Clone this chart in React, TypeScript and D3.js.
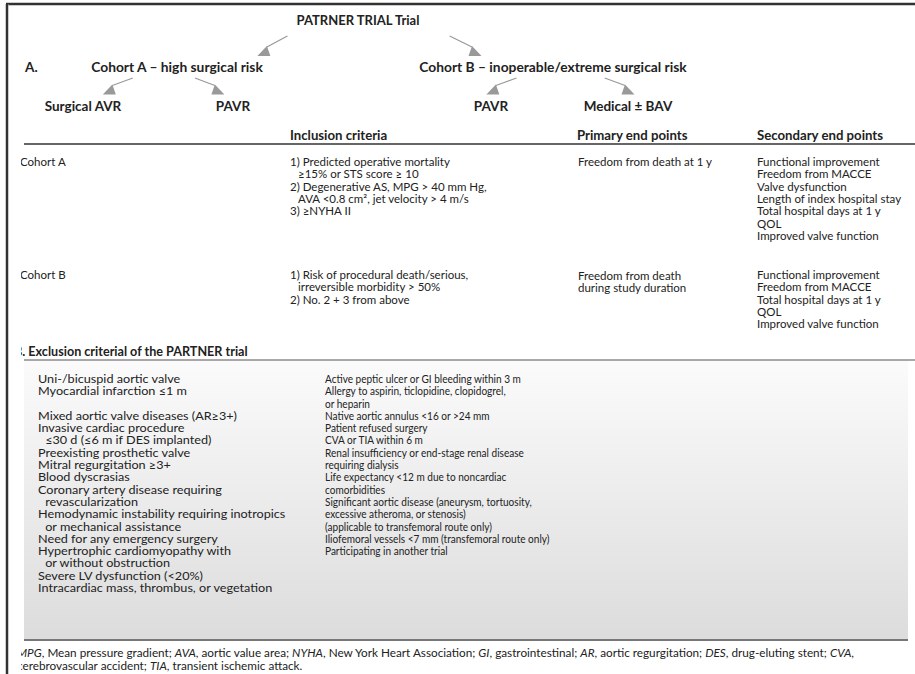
import React from "react";
import * as d3 from "d3";

const W = 915;
const H = 674;

// ---- data ----
const trialTitle = "PATRNER TRIAL Trial";
const partALabel = "A.";
const cohortLabels = ["Cohort A – high surgical risk", "Cohort B – inoperable/extreme surgical risk"];
const armLabels = ["Surgical AVR", "PAVR", "PAVR", "Medical ± BAV"];
const treeLinks = [
  ["root", "cohortA"],
  ["root", "cohortB"],
  ["cohortA", "armA1"],
  ["cohortA", "armA2"],
  ["cohortB", "armB1"],
  ["cohortB", "armB2"],
];
const tableHeaders = ["Inclusion criteria", "Primary end points", "Secondary end points"];
const rowLabels = ["Cohort A", "Cohort B"];
const inclusionA = [
  "1) Predicted operative mortality",
  "  ≥15% or STS score ≥ 10",
  "2) Degenerative AS, MPG > 40 mm Hg,",
  "  AVA <0.8 cm², jet velocity > 4 m/s",
  "3) ≥NYHA II",
];
const inclusionB = [
  "1) Risk of procedural death/serious,",
  "  irreversible morbidity > 50%",
  "2) No. 2 + 3 from above",
];
const primaryA = ["Freedom from death at 1 y"];
const primaryB = ["Freedom from death", "during study duration"];
const secondaryA = [
  "Functional improvement",
  "Freedom from MACCE",
  "Valve dysfunction",
  "Length of index hospital stay",
  "Total hospital days at 1 y",
  "QOL",
  "Improved valve function",
];
const secondaryB = [
  "Functional improvement",
  "Freedom from MACCE",
  "Total hospital days at 1 y",
  "QOL",
  "Improved valve function",
];
const partBTitle = "B. Exclusion criterial of the PARTNER trial";
const exclusionLeft = [
  "Uni-/bicuspid aortic valve",
  "Myocardial infarction ≤1 m",
  "",
  "Mixed aortic valve diseases (AR≥3+)",
  "Invasive cardiac procedure",
  "  ≤30 d (≤6 m if DES implanted)",
  "Preexisting prosthetic valve",
  "Mitral regurgitation ≥3+",
  "Blood dyscrasias",
  "Coronary artery disease requiring",
  "  revascularization",
  "Hemodynamic instability requiring inotropics",
  "  or mechanical assistance",
  "Need for any emergency surgery",
  "Hypertrophic cardiomyopathy with",
  "  or without obstruction",
  "Severe LV dysfunction (<20%)",
  "Intracardiac mass, thrombus, or vegetation",
];
const exclusionRight = [
  "Active peptic ulcer or GI bleeding within 3 m",
  "Allergy to aspirin, ticlopidine, clopidogrel,",
  "or heparin",
  "Native aortic annulus <16 or >24 mm",
  "Patient refused surgery",
  "CVA or TIA within 6 m",
  "Renal insufficiency or end-stage renal disease",
  "requiring dialysis",
  "Life expectancy <12 m due to noncardiac",
  "comorbidities",
  "Significant aortic disease (aneurysm, tortuosity,",
  "excessive atheroma, or stenosis)",
  "(applicable to transfemoral route only)",
  "Iliofemoral vessels <7 mm (transfemoral route only)",
  "Participating in another trial",
];
// [text, italic]
const footnoteLine1 = [
  ["MPG", true], [", Mean pressure gradient; ", false],
  ["AVA", true], [", aortic value area; ", false],
  ["NYHA", true], [", New York Heart Association; ", false],
  ["GI", true], [", gastrointestinal; ", false],
  ["AR", true], [", aortic regurgitation; ", false],
  ["DES", true], [", drug-eluting stent; ", false],
  ["CVA", true], [",", false],
];
const footnoteLine2 = [
  ["cerebrovascular accident; ", false],
  ["TIA", true], [", transient ischemic attack.", false],
];

// ---- layout ----
const font = "Lato, 'Open Sans', sans-serif";
const ink = "#222";

const treeX = d3
  .scaleOrdinal<string, number>()
  .domain(["root", "cohortA", "cohortB", "armA1", "armA2", "armB1", "armB2"])
  .range([358, 177, 553, 83, 233, 491, 628]);
const treeLevel: Record<string, number> = {
  root: 0, cohortA: 1, cohortB: 1, armA1: 2, armA2: 2, armB1: 2, armB2: 2,
};
const levelY = d3.scaleLinear().domain([0, 1, 2]).range([25, 72, 110.5]);
const arrowStartDrop = [11, 6];
// where each arrow sits between its two nodes (fraction of the way)
const arrowAt = d3
  .scaleOrdinal<string, number[]>()
  .domain(treeLinks.map((l) => l.join("-")))
  .range([[0.39, 0.52], [0.47, 0.6], [0.47, 0.72], [0.32, 0.73], [0.59, 0.97], [0.69, 1.0]]);

const colX = d3
  .scaleOrdinal<string, number>()
  .domain(["row", "inclusion", "primary", "secondary"])
  .range([20, 290, 578, 757]);
const pitch = d3.scaleLinear().domain([0, 1]).range([0, 12.3]);

const Lines = ({ lines, x, y, size = 11.5, indent = 8 }) => (
  <>
    {lines.map((t, i) => (
      <text
        key={i}
        x={x + (t.startsWith(" ") ? indent : 0)}
        y={y + pitch(i)}
        fontSize={size}
        fill={ink}
      >
        {t.trim()}
      </text>
    ))}
  </>
);

const App = () => {
  const nodes = {
    root: trialTitle,
    cohortA: cohortLabels[0],
    cohortB: cohortLabels[1],
    armA1: armLabels[0],
    armA2: armLabels[1],
    armB1: armLabels[2],
    armB2: armLabels[3],
  };

  const arrows = treeLinks.map(([p, c]) => {
    const [t0, t1] = arrowAt(`${p}-${c}`);
    const ix = d3.interpolateNumber(treeX(p), treeX(c));
    const y0 = levelY(treeLevel[p]) + arrowStartDrop[treeLevel[p]];
    const y1 = levelY(treeLevel[c]) - 16;
    return { x0: ix(t0), x1: ix(t1), y0, y1, dir: Math.sign(treeX(c) - treeX(p)) };
  });

  const exTop = 360;
  const exBottom = 640;

  return (
    <svg
      width={W}
      height={H}
      style={{ position: "absolute", left: 0, top: 0, background: "#fff" }}
      fontFamily={font}
    >
      <defs>
        <linearGradient id="exFill" x1="0" y1="0" x2="0" y2="1">
          <stop offset="0%" stopColor="#fbfbfb" />
          <stop offset="100%" stopColor="#dcdcdc" />
        </linearGradient>
        <clipPath id="page">
          <rect x={21} y={0} width={W} height={H} />
        </clipPath>
      </defs>

      {/* page frame */}
      <line x1={6} x2={W} y1={4} y2={4} stroke="#999" strokeWidth={3} />
      <line x1={6} x2={W} y1={4} y2={4} stroke="#111" strokeWidth={1.5} />
      <line x1={7} x2={7} y1={4} y2={H} stroke="#999" strokeWidth={3} />
      <line x1={7} x2={7} y1={4} y2={H} stroke="#111" strokeWidth={1.5} />

      <g clipPath="url(#page)">
        {/* tree */}
        {Object.entries(nodes).map(([id, label]) => (
          <text
            key={id}
            x={treeX(id)}
            y={levelY(treeLevel[id])}
            textAnchor="middle"
            fontWeight="bold"
            fontSize={id === "root" ? 13 : treeLevel[id] === 1 ? 13.8 : 13.5}
            fill={ink}
          >
            {label}
          </text>
        ))}
        <text x={25} y={levelY(1)} fontWeight="bold" fontSize={13.5} fill={ink}>
          {partALabel}
        </text>
        {arrows.map((a, i) => (
          <g key={i} fill="#999" stroke="#999">
            <line x1={a.x0} y1={a.y0} x2={a.x1 - a.dir * 3} y2={a.y1 - 9} strokeWidth={1.2} />
            <polygon
              stroke="none"
              points={`${a.x1 - 6.5},${a.y1} ${a.x1 + 6.5},${a.y1} ${a.x1 - a.dir * 3},${a.y1 - 10}`}
            />
          </g>
        ))}

        {/* table A */}
        {tableHeaders.map((h, i) => (
          <text
            key={h}
            x={colX(["inclusion", "primary", "secondary"][i]) - (i === 1 ? 1 : 0)}
            y={139.5}
            fontWeight="bold"
            fontSize={13.2}
            fill={ink}
          >
            {h}
          </text>
        ))}
        <line x1={24} x2={W} y1={144} y2={144} stroke="#333" strokeWidth={1.5} />

        <text x={colX("row")} y={166} fontSize={11.5} fill={ink}>{rowLabels[0]}</text>
        <Lines lines={inclusionA} x={colX("inclusion")} y={166} />
        <Lines lines={primaryA} x={colX("primary")} y={166} />
        <Lines lines={secondaryA} x={colX("secondary")} y={166} />

        <text x={colX("row")} y={279} fontSize={11.5} fill={ink}>{rowLabels[1]}</text>
        <Lines lines={inclusionB} x={colX("inclusion")} y={279} />
        <Lines lines={primaryB} x={colX("primary")} y={280} />
        <Lines lines={secondaryB} x={colX("secondary")} y={279} />

        {/* part B */}
        <text x={14} y={356} fontWeight="bold" fontSize={12.6} fill={ink}>
          {partBTitle}
        </text>
        <rect x={24} y={exTop} width={884} height={exBottom - exTop} fill="url(#exFill)" />
        <line x1={24} x2={W} y1={exTop} y2={exTop} stroke="#555" strokeWidth={1.2} />
        <line x1={24} x2={908} y1={exBottom} y2={exBottom} stroke="#777" strokeWidth={2} />
        <g transform="translate(38,0) scale(1.1,1)">
          <Lines lines={exclusionLeft} x={0} y={383} indent={6.5} />
        </g>
        <g transform="translate(325,0) scale(0.875,1)">
          <Lines lines={exclusionRight} x={0} y={383} />
        </g>

        {/* footnote */}
        <g transform="translate(17,0) scale(1.12,1)">
          {[footnoteLine1, footnoteLine2].map((segs, li) => (
            <text key={li} x={0} y={657 + li * 13} fontSize={10.5} fill={ink}>
              {segs.map(([t, it], j) => (
                <tspan key={j} fontStyle={it ? "italic" : "normal"}>
                  {t}
                </tspan>
              ))}
            </text>
          ))}
        </g>
      </g>
    </svg>
  );
};

export default App;
